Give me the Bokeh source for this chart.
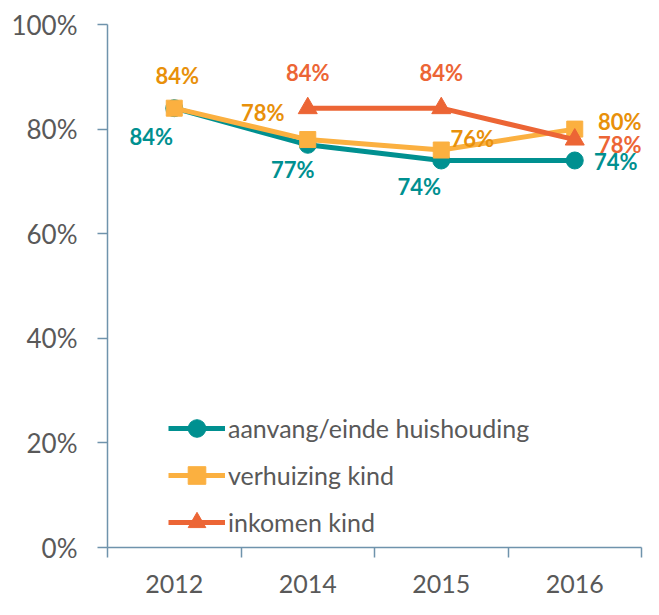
import numpy as np
from bokeh.plotting import figure
from bokeh.models import (ColumnDataSource, FixedTicker, PrintfTickFormatter,
                          Range1d, Legend, LegendItem)
from bokeh.core.properties import value
from bokeh.embed import file_html
from bokeh.resources import INLINE

years = ["2012", "2014", "2015", "2016"]
aanvang = [84, 77, 74, 74]
verhuizing = [84, 78, 76, 80]
inkomen = [np.nan, 84, 84, 78]

names = ["aanvang/einde huishouding", "verhuizing kind", "inkomen kind"]
y_ticks = [0, 20, 40, 60, 80, 100]

TEAL = "#009090"
ORANGE = "#FBB040"
ORANGE_TXT = "#E8900A"
RED = "#EC6535"
GREY = "#595959"
AXIS = "#6F93AC"
FONT = "Lato"

xpos = [i + 0.5 for i in range(len(years))]

p = figure(width=643, height=599, output_backend="svg", toolbar_location=None,
           x_range=Range1d(0, len(years)), y_range=Range1d(0, 100),
           min_border_left=107, min_border_right=2, min_border_top=24,
           min_border_bottom=52)
p.outline_line_color = None
p.grid.visible = False
p.background_fill_color = "white"

# x axis: labels at centers, tick marks at boundaries
xa = p.xaxis[0]
xa.ticker = FixedTicker(ticks=xpos, minor_ticks=list(range(len(years) + 1)))
xa.major_label_overrides = {x: y for x, y in zip(xpos, years)}
xa.major_tick_line_color = None
xa.minor_tick_in = 0
xa.minor_tick_out = 10
xa.minor_tick_line_color = AXIS
xa.minor_tick_line_width = 1.5
xa.axis_line_color = AXIS
xa.axis_line_width = 1.5
xa.major_label_text_font = FONT
xa.major_label_text_font_size = "25px"
xa.major_label_text_color = GREY
xa.major_label_standoff = 17

ya = p.yaxis[0]
ya.ticker = FixedTicker(ticks=y_ticks)
ya.formatter = PrintfTickFormatter(format="%d%%")
ya.minor_tick_line_color = None
ya.major_tick_in = 0
ya.major_tick_out = 10
ya.major_tick_line_color = AXIS
ya.major_tick_line_width = 1.5
ya.axis_line_color = AXIS
ya.axis_line_width = 1.5
ya.major_label_text_font = FONT
ya.major_label_text_font_size = "26px"
ya.major_label_text_color = GREY
ya.major_label_standoff = 20

series = [
    (aanvang, TEAL, TEAL, "circle", 17,
     [(-23, 28), (-15, 25), (-22, 26), (41, 1)]),
    (verhuizing, ORANGE, ORANGE_TXT, "square", 16,
     [(3, -33), (-45, -27), (31, -12), (45, -8)]),
    (inkomen, RED, RED, "triangle", 19,
     [(0, 0), (0, -36), (0, -36), (45, 5)]),
]

items = []
for (vals, col, tcol, marker, size, offs), name in zip(series, names):
    src = ColumnDataSource(dict(x=xpos, y=vals,
                                lab=["" if np.isnan(v) else f"{v:.0f}%" for v in vals],
                                dx=[o[0] for o in offs], dy=[o[1] for o in offs]))
    r1 = p.line("x", "y", source=src, line_color=col, line_width=5)
    r2 = p.scatter("x", "y", source=src, marker=marker, size=size,
                   fill_color=col, line_color=col)
    p.text("x", "y", text="lab", source=src, x_offset="dx", y_offset="dy",
           text_align="center", text_baseline="middle",
           text_font=value(FONT), text_font_style="bold",
           text_font_size="22px", text_color=tcol)
    items.append(LegendItem(label=name, renderers=[r1, r2]))

legend = Legend(items=items, location=(61, 3))
legend.glyph_width = 57
legend.glyph_height = 44
legend.label_standoff = 3
legend.spacing = 3
legend.padding = 0
legend.margin = 0
legend.border_line_color = None
legend.background_fill_alpha = 0
legend.label_text_font = FONT
legend.label_text_font_size = "25px"
legend.label_text_color = GREY
p.add_layout(legend)

open("out.html", "w").write(file_html(p, INLINE))
